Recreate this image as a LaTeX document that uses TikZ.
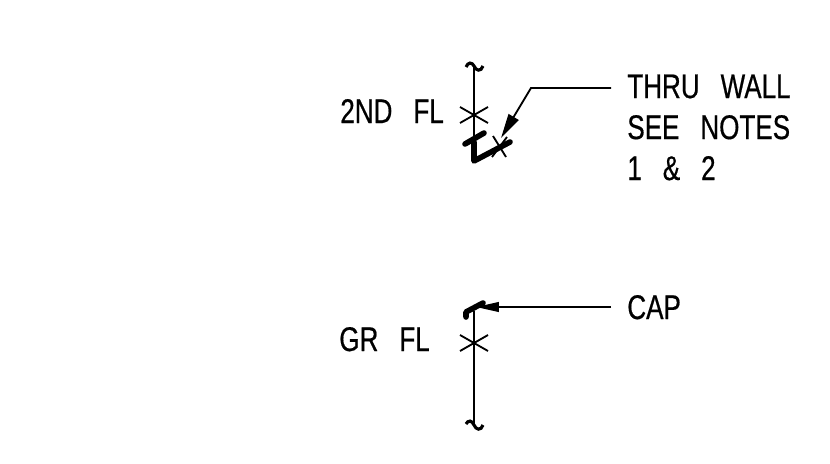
\documentclass[tikz,border=0pt]{standalone}
\usepackage{fontspec}
\setmainfont[FakeStretch=0.76,FakeBold=0.5,WordSpace=1.45]{Liberation Sans}
\usetikzlibrary{arrows.meta}
\tikzset{
	thinline/.style={line width=1.05pt},
	heavyline/.style={line width=3.2pt, line cap=round, line join=round},
	cadtext/.style={font=\fontsize{19.5}{23.3}\selectfont, inner sep=0pt, anchor=base west, align=left},
}

\begin{document}
\begin{tikzpicture}[x=0.02cm,y=-0.02cm]
	\useasboundingbox (0,0) rectangle (830,463);
	% upper riser
	\coordinate (riserTop) at (474,66);
	\coordinate (elbow) at (474,161);
	\draw[thinline] (riserTop) -- (elbow);
	\draw[line width=1.8pt] (466,67) .. controls (468,62) and (472,62) .. (474,66) .. controls (476,71) and (481,72) .. (483,66);
	\draw[thinline] (460,107) -- (488,123);
	\draw[thinline] (460,123) -- (488,107);
	\draw[heavyline] (465,144) -- (484,133);
	\draw[heavyline] (474,142) -- (elbow) -- (510,142);
	\draw[thinline] (493,136) -- (506,157);
	\draw[thinline] (507,137) -- (492,157);
	\node[cadtext] (lblSecond) at (340,123) {2ND\ \ FL};
	\node[cadtext] (lblWall) at (627,180) {THRU\ \ WALL\\SEE\ \ NOTES\\1\ \ \&\ \ 2};
	\coordinate (wallTip) at (501,138);
	\coordinate (wallLeader) at (611,88);
	\draw[thinline, -{Triangle[length=14pt,width=6.5pt]}] (wallLeader) -- (531,88) -- (wallTip);
	% lower riser
	\coordinate (capJoint) at (474,311);
	\coordinate (riserEnd) at (474,425);
	\draw[thinline] (capJoint) -- (riserEnd);
	\draw[line width=1.8pt] (466,424) .. controls (468,420) and (472,420) .. (474,425) .. controls (476,430) and (481,431) .. (483,425);
	\draw[thinline] (460,335) -- (488,351);
	\draw[thinline] (460,351) -- (488,335);
	\draw[heavyline] (466,317) -- (466,312) -- (483,303);
	\node[cadtext] (lblGround) at (339,351) {GR\ \ FL};
	\node[cadtext] (lblCap) at (627,319) {CAP};
	\coordinate (capTip) at (476,307);
	\coordinate (capLeader) at (611,307);
	\draw[thinline, -{Triangle[length=13pt,width=5.5pt]}] (capLeader) -- (capTip);
\end{tikzpicture}
\end{document}
